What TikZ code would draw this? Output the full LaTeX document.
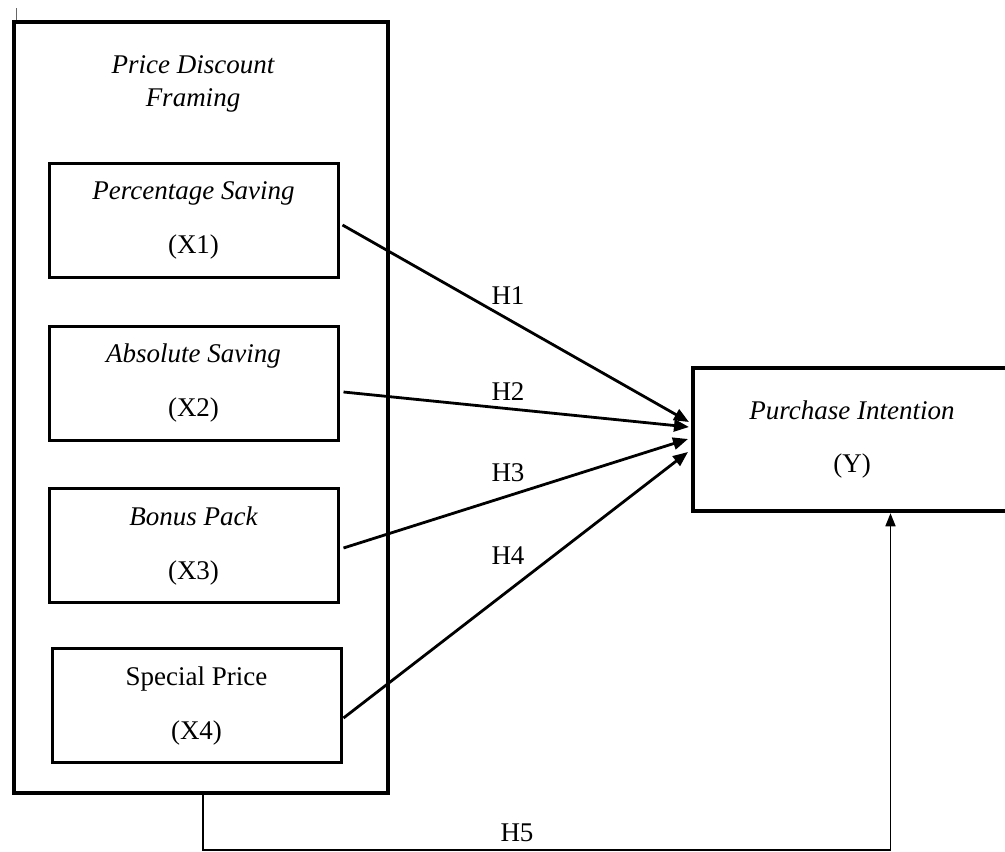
\documentclass[tikz,border=0pt]{standalone}
\usepackage{fontspec}
\setmainfont{Liberation Serif}
\usetikzlibrary{arrows.meta}
\begin{document}
\begin{tikzpicture}[x=1pt,y=-1pt,
  txt/.style={font=\fontsize{27}{54}\selectfont, align=center, inner sep=0pt},
  outerbox/.style={draw, line width=4pt, minimum width=374pt, minimum height=771pt},
  varbox/.style={draw, line width=3pt, minimum width=289pt, minimum height=114pt, txt},
  depbox/.style={draw, line width=4.5pt, minimum width=318pt, minimum height=143pt, txt},
  harrow/.style={line width=2.8pt, -{Triangle[length=15pt,width=12pt]}},
  thinarrow/.style={line width=1.6pt, -{Triangle[length=13pt,width=10pt]}},
  hlabel/.style={font=\fontsize{27}{32}\selectfont, inner sep=0pt}]
\useasboundingbox (0,0) rectangle (1005,852);
\fill[white] (0,0) rectangle (1005,852);
% small mark at top-left
\draw[line width=1.5pt, black!60] (16.5,8) -- (16.5,22);
% outer frame
\node[outerbox] (outer) at (201,407.5) {};
\node[font=\fontsize{27}{33}\selectfont, align=center, inner sep=0pt] (title) at (193,84) {\itshape Price Discount\\\itshape Framing};
% variable boxes
\node[varbox] (b1) at (193.5,220) {\itshape Percentage Saving\\(X1)};
\node[varbox] (b2) at (193.5,383.5) {\itshape Absolute Saving\\(X2)};
\node[varbox] (b3) at (193.5,545.5) {\itshape Bonus Pack\\(X3)};
\node[varbox] (b4) at (196.5,705.5) {Special Price\\(X4)};
% dependent box
\node[depbox] (Y) at (852,439.5) {\itshape Purchase Intention\\(Y)};
% arrow targets
\coordinate (t1) at (689,422);
\coordinate (t2) at (689,427);
\coordinate (t3) at (688,439);
\coordinate (t4) at (688,452);
\draw[harrow] ([yshift=-5pt,xshift=3pt]b1.east) -- (t1);
\draw[harrow] ([yshift=-8.5pt,xshift=4pt]b2.east) -- (t2);
\draw[harrow] ([yshift=-2.5pt,xshift=4pt]b3.east) -- (t3);
\draw[harrow] ([yshift=-12.5pt,xshift=1pt]b4.east) -- (t4);
% H5 path
\coordinate (h5c) at (890.5,850);
\draw[thinarrow] ([xshift=2pt]outer.south) |- (h5c) -- (Y.south -| h5c);
% labels
\node[hlabel] (l1) at (508,296) {H1};
\node[hlabel] (l2) at (508,392) {H2};
\node[hlabel] (l3) at (508,473) {H3};
\node[hlabel] (l4) at (508,556) {H4};
\node[hlabel] (l5) at (517,833) {H5};
\end{tikzpicture}
\end{document}
